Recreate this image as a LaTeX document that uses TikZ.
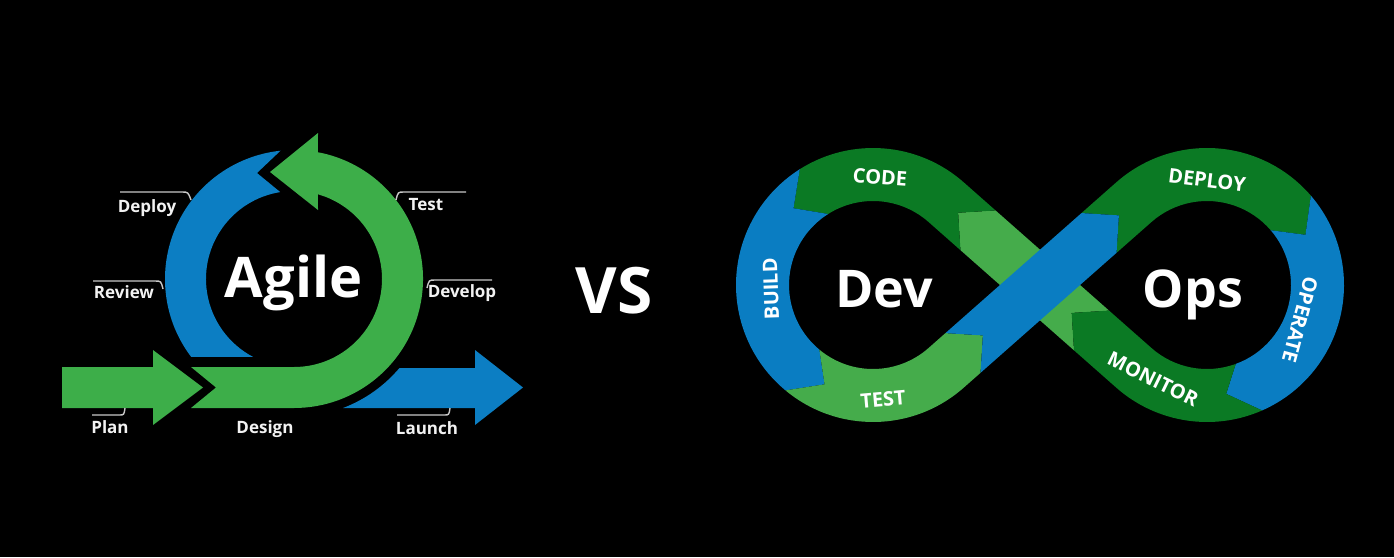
\documentclass[tikz,border=0pt]{standalone}
\usepackage{fontspec}
\setmainfont{Open Sans}
\usetikzlibrary{calc}
\definecolor{agreen}{HTML}{3DAE49}
\definecolor{ablue}{HTML}{0C7EC3}
\definecolor{dgreen}{HTML}{0B7A24}
\definecolor{lgreen}{HTML}{45AC4B}
\definecolor{dblue}{HTML}{0A7DC2}
\definecolor{txt}{HTML}{F2F2F2}
\definecolor{callgray}{HTML}{C8C8C8}
\tikzset{
  lbl/.style={text=txt, font=\bfseries\fontsize{17}{17}\selectfont, inner sep=0pt, anchor=base},
  callout/.style={draw=callgray, line width=1.4pt},
  big/.style={text=white, font=\bfseries\fontsize{56}{56}\selectfont, inner sep=0pt, anchor=base},
  seglbl/.style={text=white, font=\bfseries\fontsize{20}{20}\selectfont, inner sep=0pt},
}
\begin{document}
\begin{tikzpicture}[x=1pt,y=-1pt]
\fill[black] (0,0) rectangle (1394,557);
\useasboundingbox (0,0) rectangle (1394,557);
% ---------------- Agile ----------------
\coordinate (C) at (294,279);
% blue arc
\fill[ablue] ($(C)+(142.8:129)$) arc[start angle=142.8,end angle=264,radius=129]
  -- (257,173) -- ($(C)+(261:88)$) arc[start angle=261,end angle=117.6,radius=88] -- cycle;
% green arc with head
\fill[agreen] (191,367) -- (294,367) arc[start angle=90,end angle=-74.2,radius=88]
  -- (318,210) -- (270,172) -- (318,133) -- ($(C)+(-79.3:129)$)
  arc[start angle=-79.3,end angle=90,radius=129] -- (191,408) -- (216,387.5) -- cycle;
% plan arrow
\fill[agreen] (62,367) -- (153,367) -- (153,350) -- (203,387.5) -- (153,425) -- (153,408) -- (62,408) -- cycle;
% launch arrow
\fill[ablue] ($(C)+(40.2:138)$) -- (475,368) -- (475,350) -- (523,387.5) -- (475,425) -- (475,408)
  -- ($(C)+(69.2:138)$) arc[start angle=69.2,end angle=40.2,radius=138] -- cycle;
% callouts
\draw[callout] (120,192) -- (182,192) .. controls (188,192) .. (191,200);
\draw[callout] (93,281) -- (155,281) .. controls (161,281) .. (163,289);
\draw[callout] (466,192) -- (404,192) .. controls (398,192) .. (396,200);
\draw[callout] (492,280) -- (435,280) .. controls (429,280) .. (427,288);
\draw[callout] (92,415) -- (119,415) .. controls (124,415) .. (125,408);
\draw[callout] (397,415) -- (444,415) .. controls (449,415) .. (450,408);
\node[lbl] (deploy) at (147,212) {Deploy};
\node[lbl] (review) at (124,298) {Review};
\node[lbl] (test) at (426,210) {Test};
\node[lbl] (develop) at (462,297) {Develop};
\node[lbl] (plan) at (110,433) {Plan};
\node[lbl] (design) at (265,433) {Design};
\node[lbl] (launch) at (427,434) {Launch};
\node[big] (agile) at (293.5,297) {Agile};
% ---------------- VS ----------------
\node[big, font=\bfseries\fontsize{64}{64}\selectfont] (vs) at (614,313) {VS};
% ---------------- DevOps ----------------
\coordinate (L) at (873,285);
\coordinate (Rc) at (1207,285);
\coordinate (T1) at ($(L)+(-48.57:110.5)$);
\coordinate (P1) at ($(T1)+(41.43:16)$);
\coordinate (B1o) at ($(P1)+(-3.57:37.48)$);
\coordinate (B1i) at ($(P1)+(86.43:37.48)$);
\coordinate (T2) at ($(L)+(48.57:110.5)$);
\coordinate (P4) at ($(T2)+(-41.43:49)$);
\coordinate (B4o) at ($(P4)+(93.57:37.48)$);
\coordinate (B4i) at ($(P4)+(183.57:37.48)$);
\coordinate (T3) at ($(Rc)+(228.57:110.5)$);
\coordinate (P5) at ($(T3)+(138.57:20)$);
\coordinate (B5a) at ($(P5)+(93.57:37.48)$);
\coordinate (B5b) at ($(P5)+(183.57:37.48)$);
\coordinate (T4) at ($(Rc)+(131.43:110.5)$);
\coordinate (P8) at ($(T4)+(221.43:83)$);
\coordinate (B8o) at ($(P8)+(86.43:37.48)$);
\coordinate (B8i) at ($(P8)+(-3.57:37.48)$);
% light green diagonal (behind)
\fill[lgreen] (B8o) -- (B1i) -- (P1) -- (B1o) -- (B8i) -- (P8) -- cycle;
% CODE
\fill[dgreen] (B1o) -- ($(L)+(-48.57:137)$) arc[start angle=-48.57,end angle=-122.3,radius=137]
  -- ($(L)+(-136:110.5)$) -- ($(L)+(-122.3:84)$) arc[start angle=-122.3,end angle=-48.57,radius=84]
  -- (B1i) -- (P1) -- cycle;
% BUILD
\fill[dblue] ($(L)+(237.7:137)$) arc[start angle=237.7,end angle=129.7,radius=137]
  -- ($(L)+(116:110.5)$) -- ($(L)+(129.7:84)$) arc[start angle=129.7,end angle=237.7,radius=84]
  -- ($(L)+(224:110.5)$) -- cycle;
% TEST
\fill[lgreen] ($(L)+(129.7:137)$) arc[start angle=129.7,end angle=48.57,radius=137]
  -- (B4o) -- (P4) -- (B4i) -- ($(L)+(48.57:84)$) arc[start angle=48.57,end angle=129.7,radius=84]
  -- ($(L)+(116:110.5)$) -- cycle;
% DEPLOY
\fill[dgreen] (B5b) -- ($(Rc)+(228.57:137)$) arc[start angle=228.57,end angle=319.3,radius=137]
  -- ($(Rc)+(333:110.5)$) -- ($(Rc)+(319.3:84)$) arc[start angle=319.3,end angle=228.57,radius=84]
  -- (B5a) -- (P5) -- cycle;
% OPERATE
\fill[dblue] ($(Rc)+(319.3:137)$) arc[start angle=319.3,end angle=426.3,radius=137]
  -- ($(Rc)+(440:110.5)$) -- ($(Rc)+(430:84)$) arc[start angle=430,end angle=319.3,radius=84]
  -- ($(Rc)+(333:110.5)$) -- cycle;
% MONITOR
\fill[dgreen] ($(Rc)+(66.3:137)$) arc[start angle=66.3,end angle=131.43,radius=137]
  -- (B8o) -- (P8) -- (B8i) -- ($(Rc)+(131.43:84)$) arc[start angle=131.43,end angle=70,radius=84]
  -- ($(Rc)+(80:110.5)$) -- cycle;
% blue diagonal (front)
\fill[dblue] (B4o) -- (B5a) -- (P5) -- (B5b) -- (B4i) -- (P4) -- cycle;
% labels
\node[seglbl, rotate=-4] (code) at (880,177) {CODE};
\node[seglbl, rotate=92] (build) at (771,289) {BUILD};
\node[seglbl, rotate=5] (testd) at (883,399) {TEST};
\node[seglbl, rotate=-7] (deployd) at (1207,180) {DEPLOY};
\node[seglbl, rotate=-105] (operate) at (1300,320) {OPERATE};
\node[seglbl, rotate=-26] (monitor) at (1153,379) {MONITOR};
\node[big, font=\bfseries\fontsize{52}{52}\selectfont] (dev) at (884,307) {Dev};
\node[big, font=\bfseries\fontsize{52}{52}\selectfont] (ops) at (1193,307) {Ops};
\end{tikzpicture}
\end{document}
